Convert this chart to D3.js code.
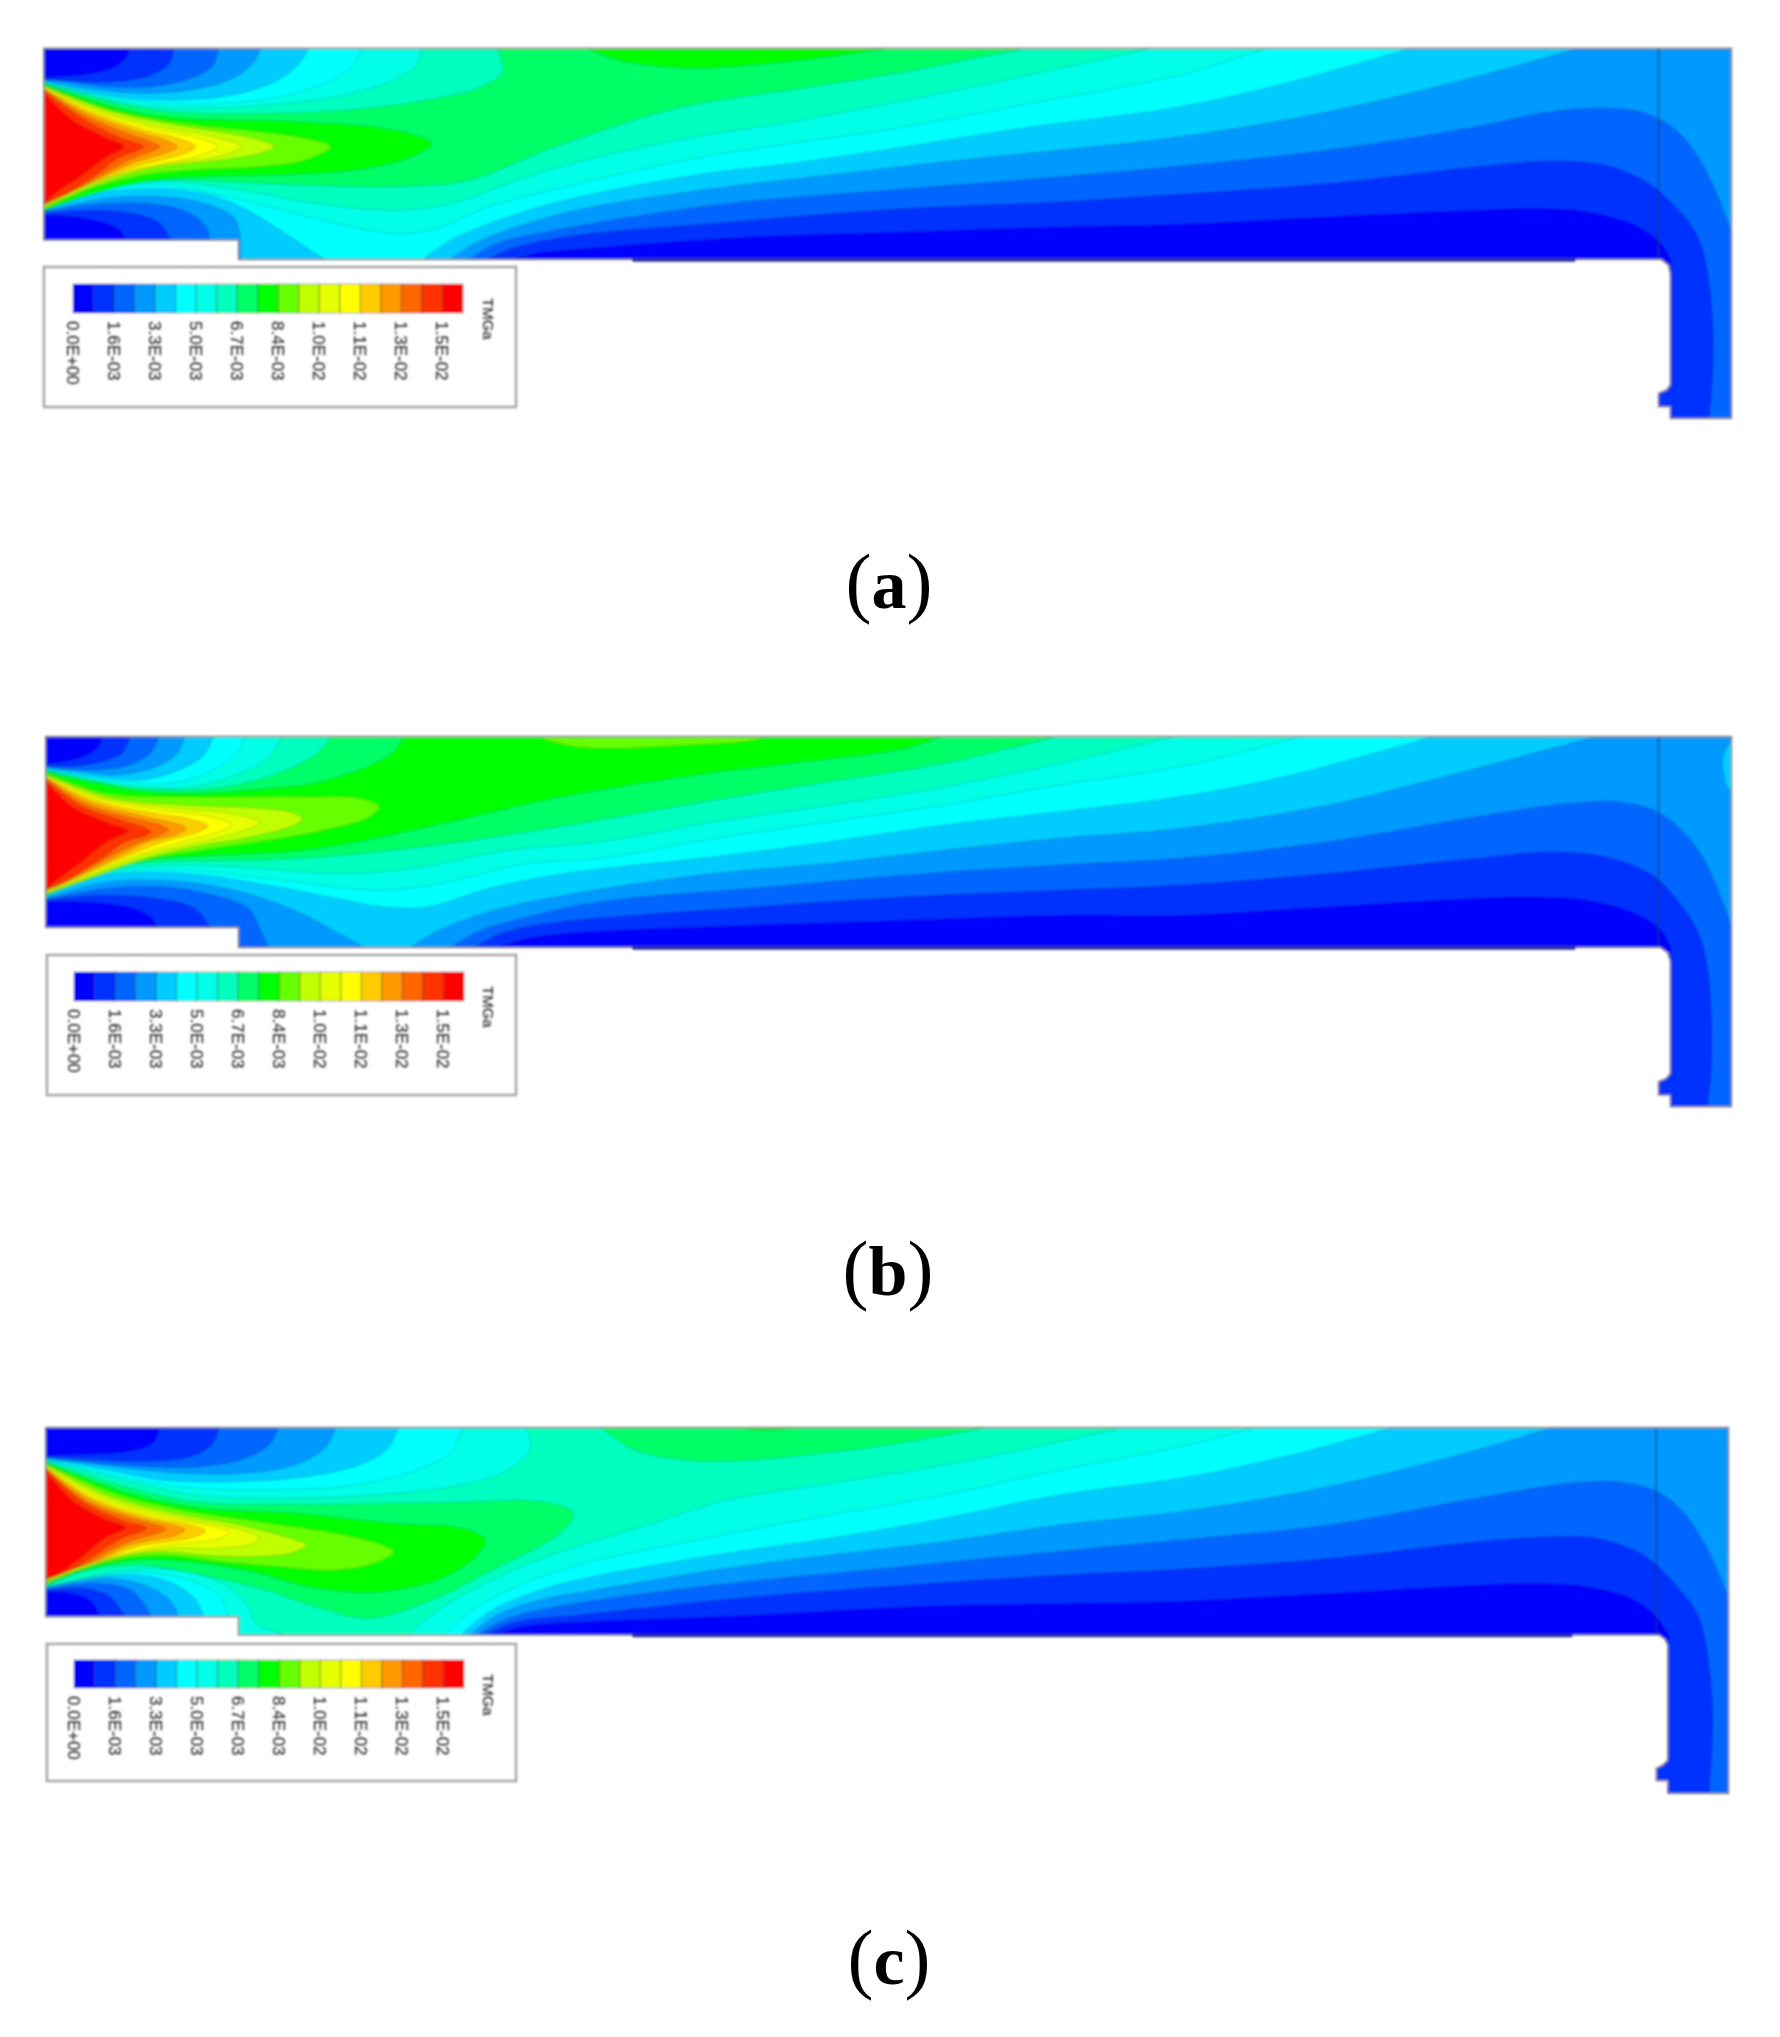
<!DOCTYPE html>
<html><head><meta charset="utf-8">
<script src="https://cdn.jsdelivr.net/npm/d3@7"></script>
<style>html,body{margin:0;background:#fff}svg{display:block}</style></head>
<body><svg id="c" width="1780" height="2037"></svg>
<script>
// colour bands of the legend
const bandColors=["#0000ff","#0033ff","#0066ff","#0099ff","#00ccff","#00ffff","#00ffe6","#00ffbf","#00ff66","#00ff00","#66ff00","#c0ff00","#e6ff00","#ffff00","#ffcc00","#ff9900","#ff6600","#ff3300","#ff0000"];
const tickLabels=["0.0E+00","1.6E-03","3.3E-03","5.0E-03","6.7E-03","8.4E-03","1.0E-02","1.1E-02","1.3E-02","1.5E-02"];
const legendTitle="TMGa";
// isolines as [band, closure, near-inlet readings, mid readings, outlet readings]
const aTopLeft=[
[7,"TL",[1220,20,1235,95,1180,140,1040,180,830,210,600,220,400,218,250,195,40,132]],
[6,"TL",[1025,20,1010,75,940,125,800,170,620,195,430,205,280,195,40,130]],
[5,"TL",[870,20,845,75,780,125,650,170,500,190,340,190,200,170,40,128]],
[4,"TL",[730,20,700,75,640,125,530,165,400,180,260,175,130,150,40,125]],
[3,"TL",[605,20,580,75,520,120,420,150,300,160,180,150,40,122]],
[2,"TL",[495,20,475,80,420,115,320,140,200,140,100,125,40,120]],
[1,"TL",[378,20,365,70,320,105,230,125,130,125,40,118]],
[0,"TL",[262,20,250,55,215,85,140,105,36,112]]];
const aLower=[
[7,"R",[40,506,200,440,350,420,600,430,950,440,1150,420,1350,330],[0,265,200,205,500,150,800,95,1000,50,1140,20]],
[6,"R",[40,508,200,442,350,425,550,450,750,490,950,510,1100,490,1300,410,1450,360],[0,355,250,290,500,245,800,180,1100,110,1460,20]],
[5,"R",[40,509,200,447,350,435,550,480,800,550,950,580,1050,570,1200,500,1400,440],[0,405,250,355,500,310,800,260,1100,195],[0,105,245,20]],
[4,"R",[1020,664,1100,600,1250,530,1400,480],[0,450,250,405,500,370,800,320,1100,265],[0,200,300,125,640,20]],
[4,"B",[40,510,180,460,330,445,470,465,560,505,640,560,720,620,778,664]],
[3,"R",[1090,664,1170,605,1300,550,1450,505],[0,497,300,445,600,405,900,365,1200,330],[0,290,400,215,800,110,1090,20]],
[3,"B",[40,512,200,475,350,470,470,495,535,535,550,600,550,664]],
[2,"R",[1140,664,1220,610,1350,575],[0,535,300,495,700,455,1100,420],[0,378,400,330,800,260,1000,215,1150,205,1260,220,1340,270,1400,350,1450,460,1495,590]],
[2,"B",[40,515,150,495,300,490,410,515,460,560,470,604]],
[1,"B",[1180,664,1260,625,1400,590],[0,575,400,540,800,505,1200,485],[0,462,400,430,800,380,1000,362,1150,375,1260,425,1340,500,1400,590,1425,690,1440,850,1440,1000,1430,1140]],
[1,"B",[40,520,150,510,270,520,340,550,370,604]],
[0,"B",[1250,664,1320,640,1450,625],[0,620,400,590,800,575,1200,560],[0,552,400,530,800,510,950,505,1100,515,1230,555,1300,610,1330,668]],
[0,"B",[38,525,120,530,200,550,240,575,250,604]]];
const aUpper=[
[9,"C",[1450,20,1520,55],[120,75,250,85,400,75,600,50,780,20]],
[9,"J",[40,135,250,210,400,235,700,245,950,270,1050,310,1000,350,850,390,650,405,450,410,300,425,170,460,40,510]],
[10,"J",[40,137,200,205,400,250,600,275,720,295,785,320,720,360,600,380,420,390,300,405,160,445,40,505]],
[11,"J",[40,140,200,210,380,255,520,280,600,300,638,320,600,340,500,360,380,375,280,395,150,445,40,503]],
[12,"J",[40,142,180,210,340,260,480,290,552,320,490,350,360,372,260,395,140,445,40,500]],
[13,"J",[40,145,170,212,320,265,440,295,490,320,440,348,330,375,240,400,130,445,40,497]],
[14,"J",[40,148,160,215,300,270,400,300,432,320,400,342,300,372,220,403,120,450,40,495]],
[15,"J",[40,150,150,220,280,275,360,303,385,320,360,337,280,365,200,405,110,455,40,492]],
[16,"J",[40,152,140,225,260,283,320,307,340,320,320,333,260,360,180,410,100,460,40,490]],
[17,"J",[40,155,130,230,230,290,280,310,298,320,280,332,230,355,160,415,90,462,40,488]],
[18,"J",[40,165,110,240,200,295,245,320,200,350,130,410,70,455,40,485]]];
const bTopLeft=[
[8,"TL",[980,30,945,85,870,130,740,175,570,195,400,205,270,195,40,140]],
[7,"TL",[790,30,750,85,670,135,560,175,420,195,280,185,40,138]],
[6,"TL",[660,30,625,95,550,145,450,180,310,190,160,165,40,135]],
[5,"TL",[565,30,535,90,470,140,370,175,230,170,40,133]],
[4,"TL",[480,30,455,90,390,135,290,165,170,155,40,130]],
[3,"TL",[405,30,385,85,330,125,230,150,130,140,40,128]],
[2,"TL",[338,30,315,85,260,120,170,135,40,125]],
[1,"TL",[262,30,245,80,190,110,110,125,40,122]],
[0,"TL",[190,30,175,70,130,100,40,118]]];
const bLower=[
[8,"R",[40,510,150,450,300,405,500,390,700,378,850,352,1100,290,1350,225],[0,195,250,150,500,115,800,70,900,30]],
[7,"R",[40,512,200,430,350,410,600,405,800,392,1050,362,1300,320],[0,285,300,225,600,170,900,115,1210,30]],
[6,"R",[40,514,200,440,400,420,600,430,800,445,1000,430,1250,375],[0,350,300,290,600,240,900,185,1200,115,1520,30]],
[5,"R",[40,515,200,445,400,435,650,465,900,495,1050,480,1300,415],[0,400,300,340,600,290,900,240,1200,180],[0,125,340,30]],
[4,"R",[40,517,200,450,400,445,620,480,800,520,920,545,1040,545,1200,490,1400,445],[0,442,300,395,600,350,900,300,1200,260],[0,215,300,150,700,30]],
[3,"R",[985,674,1060,620,1200,560,1400,510],[0,490,300,445,600,415,900,375,1200,340],[0,310,400,240,800,130,1140,30]],
[3,"B",[40,520,200,470,400,470,550,500,700,560,800,620,885,674]],
[2,"R",[1090,674,1170,620,1300,575],[0,530,400,490,800,450,1200,420],[0,400,400,350,800,275,1050,235,1180,230,1280,255,1350,310,1420,410,1495,620]],
[2,"B",[40,522,200,490,350,485,480,510,570,550,600,610,625,674]],
[1,"B",[1150,674,1230,625,1350,595],[0,580,400,545,800,515,1200,495],[0,480,400,445,800,400,1000,380,1150,395,1270,445,1340,520,1400,620,1425,720,1437,900,1435,1050,1425,1150]],
[1,"B",[40,525,180,510,330,520,430,550,475,612]],
[0,"B",[1210,674,1280,645,1400,625],[0,620,400,600,800,585,1200,570],[0,570,400,545,800,520,950,515,1100,525,1230,565,1300,615,1330,678]],
[0,"B",[40,530,170,532,270,550,320,580,332,612]]];
const bUpper=[
[10,"C",[1310,30,1400,60,1480,70],[200,62,390,48,460,30]],
[4,"C",null,null,[1496,40,1468,90,1480,190,1496,196]],
[10,"J",[40,145,200,205,400,215,700,215,860,220,912,245,880,280,750,320,600,350,450,375,300,405,150,465,40,510]],
[11,"J",[40,147,200,215,400,240,600,250,690,265,712,282,680,305,560,340,430,365,300,400,150,460,40,508]],
[12,"J",[40,150,180,215,380,250,520,265,600,292,550,320,430,355,300,390,140,460,40,505]],
[13,"J",[40,152,170,218,340,255,470,275,525,298,490,322,400,350,280,390,130,460,40,503]],
[14,"J",[40,155,160,222,310,262,420,283,465,303,430,325,350,350,260,390,120,460,40,500]],
[15,"J",[40,157,150,228,290,272,380,295,408,310,380,330,310,350,240,390,110,465,40,497]],
[16,"J",[40,160,140,235,270,280,340,300,362,315,340,330,280,355,210,395,100,465,40,495]],
[17,"J",[40,163,130,240,250,290,300,308,315,320,300,332,250,350,180,405,90,470,40,492]],
[18,"J",[40,170,110,245,200,293,255,318,200,350,130,415,70,465,40,490]]];
const cTopLeft=[
[6,"TL",[1295,30,1308,100,1240,170,1100,215,900,240,650,250,430,240,280,205,40,137]],
[5,"TL",[1130,30,1100,110,1010,165,850,210,650,225,440,220,260,190,40,135]],
[4,"TL",[965,30,935,100,860,150,720,185,540,200,350,195,200,165,40,133]],
[3,"TL",[802,30,770,100,690,150,560,175,400,175,250,160,40,130]],
[2,"TL",[652,30,625,90,550,135,440,155,300,155,40,128]],
[1,"TL",[497,30,475,90,420,125,300,140,180,135,40,125]],
[0,"TL",[340,30,325,80,280,105,170,118,40,122]]];
const cLower=[
[6,"R",[985,665,1060,590,1180,510,1350,425],[0,385,150,320,330,255,600,205,850,160,1100,105,1400,30]],
[6,"B",[40,514,280,462,430,475,530,525,575,585,590,625,690,665]],
[5,"R",[1080,665,1150,590,1280,510,1450,445],[0,440,300,365,600,300,900,240,1200,165],[0,95,230,30]],
[5,"B",[40,516,260,472,400,490,490,540,520,610]],
[4,"R",[1120,665,1200,590,1320,530,1450,490],[0,480,300,420,600,370,900,310,1200,240],[0,190,300,120,600,30]],
[4,"B",[40,518,230,480,350,495,430,550,455,610]],
[3,"R",[1145,665,1220,600,1350,550,1450,530],[0,520,300,465,600,420,900,380,1200,330],[0,290,400,215,800,105,1030,30]],
[3,"B",[40,520,200,490,310,515,370,560,390,610]],
[2,"R",[1160,665,1250,610,1400,570],[0,555,300,510,700,465,1100,420],[0,375,400,330,800,250,1050,205,1180,200,1280,225,1350,280,1420,390,1487,560]],
[2,"B",[40,522,170,505,270,530,320,610]],
[1,"B",[1175,665,1270,620,1430,600],[0,590,400,545,800,510,1200,480],[0,462,400,430,800,380,1000,365,1130,370,1260,425,1340,510,1400,600,1430,750,1440,920,1430,1140]],
[1,"B",[40,525,140,520,210,545,252,610]],
[0,"B",[1195,665,1300,632,1450,620],[0,628,400,600,800,575,1200,565],[0,558,400,535,800,510,950,505,1100,515,1230,555,1290,610,1325,668]],
[0,"B",[40,528,110,535,160,560,185,610]]];
const cUpper=[
[8,"C",[1480,30,1530,70],[90,105,220,135,350,138,500,125,750,90,1050,30]],
[9,"C",null,[320,30,430,46,560,30]],
[8,"J",[40,140,250,215,430,260,700,268,1100,262,1350,262,1420,295,1390,350,1200,470,1040,560,880,610,760,580,600,520,450,480,280,450,140,470,40,512]],
[9,"J",[40,142,230,225,420,275,700,295,950,325,1130,340,1190,375,1150,440,1050,500,900,532,750,520,580,470,450,445,280,435,140,465,40,510]],
[10,"J",[40,145,220,235,400,285,600,320,800,355,920,390,950,410,900,445,800,465,650,455,500,440,400,425,270,425,130,465,40,508]],
[11,"J",[40,148,200,240,380,295,550,330,680,370,722,390,680,415,580,425,450,420,350,410,260,420,120,465,40,505]],
[12,"J",[40,150,190,245,360,300,500,330,580,355,600,370,570,390,480,400,370,400,250,420,110,470,40,502]],
[13,"J",[40,153,180,250,340,305,460,330,520,352,490,372,400,385,310,400,220,425,100,470,40,500]],
[14,"J",[40,155,170,252,320,308,420,330,458,347,430,365,360,380,280,395,200,430,95,470,40,498]],
[15,"J",[40,158,160,255,300,312,380,332,405,345,380,362,320,375,250,395,180,435,90,470,40,495]],
[16,"J",[40,160,150,260,280,315,335,332,355,342,335,355,280,372,220,400,160,440,85,475,40,493]],
[17,"J",[40,163,140,262,250,320,295,333,305,340,290,350,240,370,190,405,130,450,80,478,40,490]],
[18,"J",[40,170,120,265,200,315,250,338,200,365,140,420,75,475,40,488]]];
// vessel outlines: [near-inlet part, outlet part]
const aOutline=[[545,658,545,600,36,600,36,25],[1490,25,1490,1135,1325,1135,1325,1100,1293,1100,1293,1060,1315,1050,1325,1035,1325,700,1320,675,1300,658]];
const bOutline=[[545,667,545,607,41,607,41,35],[1490,35,1490,1145,1325,1145,1325,1110,1293,1110,1293,1070,1315,1060,1325,1045,1325,708,1318,683,1298,667]];
const cOutline=[[545,660,545,605,41,605,41,38],[1482,38,1482,1135,1318,1135,1318,1097,1287,1097,1287,1060,1305,1050,1318,1035,1318,690,1310,672,1295,660]];
const panels=[
 {id:"a",base:8,top:aTopLeft,low:aLower,up:aUpper,out:aOutline,cropY:40,wall:[25,658],probe:1293,lineEnd:1068,legend:{x0:44,x1:516,y0:267,y1:407,bx:73,by:284,bh:29},cap:{x:889,y:608}},
 {id:"b",base:9,top:bTopLeft,low:bLower,up:bUpper,out:bOutline,cropY:725,wall:[35,667],probe:1293,lineEnd:1068,legend:{x0:47,x1:516,y0:955,y1:1095,bx:74,by:972,bh:29},cap:{x:888,y:1295}},
 {id:"c",base:7,top:cTopLeft,low:cLower,up:cUpper,out:cOutline,cropY:1415,wall:[38,660],probe:1287,lineEnd:1060,legend:{x0:47,x1:516,y0:1644,y1:1781,bx:74,by:1660,bh:28},cap:{x:889,y:1984}}];

const svg=d3.select("#c");
const x=d3.scaleLinear().domain([0,4446]).range([30,1731.5]);
const color=d3.scaleOrdinal().domain(d3.range(bandColors.length)).range(bandColors);
const chunk=a=>a?d3.range(0,a.length,2).map(i=>[a[i],a[i+1]]):[];
const stations=(l,m,r)=>{
  // the first mid reading overlaps the end of the near-inlet crop; keep only one of them
  if(l&&m&&m[0]===0&&l[l.length-2]>1340)m=m.slice(2);
  return [...chunk(l),...chunk(m).map(p=>[1489+p[0],p[1]]),...chunk(r).map(p=>[3005+.967*p[0],p[1]])];
};
const defs=svg.append("defs");
defs.append("filter").attr("id","soft").attr("filterUnits","userSpaceOnUse").attr("x",0).attr("y",0).attr("width",1780).attr("height",2037)
  .append("feGaussianBlur").attr("stdDeviation",1.0);
defs.append("filter").attr("id","softT").attr("filterUnits","userSpaceOnUse").attr("x",0).attr("y",0).attr("width",1780).attr("height",2037)
  .append("feGaussianBlur").attr("stdDeviation",.8);

panels.forEach(p=>{
  const y=d3.scaleLinear().domain([0,1200]).range([p.cropY,p.cropY+400]);
  const curve=d3.line().x(d=>x(d[0])).y(d=>y(d[1])).curve(d3.curveCatmullRom.alpha(.5));
  const poly=d3.line().x(d=>x(d[0])).y(d=>y(d[1]));
  const outline=[...chunk(p.out[0]),...chunk(p.out[1]).map(q=>[3005+.967*q[0],q[1]])];
  const extra=(kind,pts)=>{
    const a=pts[0],b=pts[pts.length-1];
    if(kind==="TL")return [[-100,-200]];
    if(kind==="R")return [[5000,-200],[5000,2500],[-100,2500]];
    if(kind==="B")return [[-100,2500]];
    if(kind==="J")return [[-100,b[1]],[-100,a[1]]];
    return [];
  };
  const pathOf=d=>{
    const pts=stations(d[2],d[3],d[4]);
    const tail=extra(d[1],pts).map(q=>`L${x(q[0])},${y(q[1])}`).join("");
    return curve(pts)+tail+"Z";
  };
  defs.append("clipPath").attr("id","clip"+p.id).append("path").attr("d",poly(outline)+"Z");
  const g=svg.append("g").attr("filter","url(#soft)");
  const inner=g.append("g").attr("clip-path",`url(#clip${p.id})`);
  inner.append("path").attr("d",poly(outline)+"Z").attr("fill",color(p.base));
  inner.selectAll("path.band").data([...p.top,...p.low,...p.up]).join("path").attr("class","band")
    .attr("d",pathOf).attr("fill",d=>color(d[0])).attr("stroke","rgba(0,50,60,.22)").attr("stroke-width",.9);
  // vertical interface line
  const sx=3005+.967*p.probe;
  inner.append("line").attr("x1",x(sx)).attr("x2",x(sx)).attr("y1",y(p.wall[0])).attr("y2",y(p.wall[1]))
    .attr("stroke","rgba(40,50,90,.65)").attr("stroke-width",1.6);
  g.append("path").attr("d",poly(outline)+"Z").attr("fill","none").attr("stroke","#8c8c8c").attr("stroke-width",1.6);
  g.append("line").attr("x1",x(1489+85)).attr("x2",x(3005+.967*p.lineEnd)).attr("y1",y(p.wall[1]+2)).attr("y2",y(p.wall[1]+2))
    .attr("stroke","#2f2f99").attr("stroke-width",3.4);
  // legend
  const L=p.legend;
  const lg=svg.append("g").attr("filter","url(#soft)");
  lg.append("rect").attr("x",L.x0).attr("y",L.y0).attr("width",L.x1-L.x0).attr("height",L.y1-L.y0)
    .attr("fill","#fff").attr("stroke","#a6a6a6").attr("stroke-width",2.6);
  const band=d3.scaleBand().domain(d3.range(bandColors.length)).range([L.bx,L.bx+390]);
  lg.selectAll("rect.sw").data(d3.range(bandColors.length)).join("rect").attr("class","sw")
    .attr("x",d=>band(d)).attr("y",L.by).attr("width",band.bandwidth()).attr("height",L.bh)
    .attr("fill",d=>color(d)).attr("stroke","rgba(40,40,40,.4)").attr("stroke-width",1);
  const tg=svg.append("g").attr("filter","url(#softT)").attr("font-family","'Liberation Sans',Arial,sans-serif").attr("font-size",17).attr("fill","#222").attr("stroke","#555").attr("stroke-width",.25);
  tg.selectAll("text.t").data(tickLabels).join("text").attr("class","t")
    .attr("transform",(d,i)=>`translate(${band(i*2)},${L.by+L.bh+8}) rotate(90)`)
    .attr("dy","0.36em").text(d=>d);
  tg.append("text").attr("transform",`translate(488,${L.by+14}) rotate(90)`).attr("dy","0.36em").attr("font-size",15).text(legendTitle);
  // caption
  const cap=svg.append("text").attr("x",p.cap.x).attr("y",p.cap.y).attr("text-anchor","middle")
    .attr("font-family","'Liberation Serif',serif").attr("font-size",78).attr("fill","#000");
  cap.append("tspan").text("(");
  cap.append("tspan").attr("font-weight","bold").attr("font-size",70).text(p.id);
  cap.append("tspan").text(")");
});
</script></body></html>
